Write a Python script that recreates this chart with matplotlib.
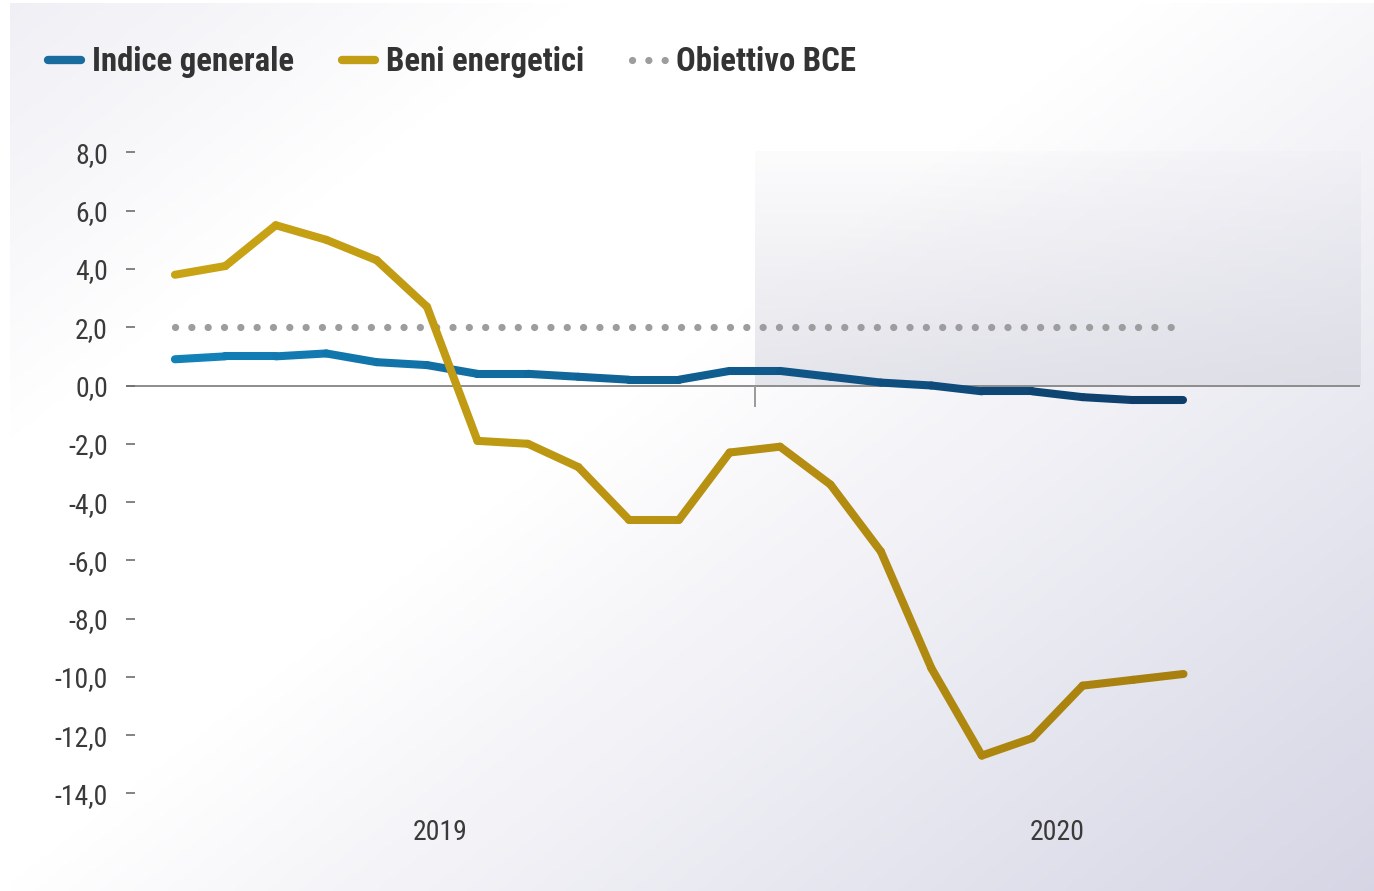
import numpy as np
import matplotlib
matplotlib.use("Agg")
import matplotlib.pyplot as plt
from matplotlib import font_manager
from matplotlib.collections import LineCollection
from matplotlib.colors import to_rgb
from matplotlib.lines import Line2D
from matplotlib.ticker import FuncFormatter

# dati: variazioni tendenziali mensili (%), gen 2019 - set 2020
mesi = ["gen-19", "feb-19", "mar-19", "apr-19", "mag-19", "giu-19", "lug-19",
        "ago-19", "set-19", "ott-19", "nov-19", "dic-19",
        "gen-20", "feb-20", "mar-20", "apr-20", "mag-20", "giu-20", "lug-20",
        "ago-20", "set-20"]
indice_generale = [0.9, 1.0, 1.0, 1.1, 0.8, 0.7, 0.4, 0.4, 0.3, 0.2, 0.2, 0.5,
                   0.5, 0.3, 0.1, 0.0, -0.2, -0.2, -0.4, -0.5, -0.5]
beni_energetici = [3.8, 4.1, 5.5, 5.0, 4.3, 2.7, -1.9, -2.0, -2.8, -4.6, -4.6, -2.3,
                   -2.1, -3.4, -5.7, -9.7, -12.7, -12.1, -10.3, -10.1, -9.9]
obiettivo_bce = [2.0] * len(mesi)
anni = ["2019", "2020"]
mesi_per_anno = 12
y_ticks = [8, 6, 4, 2, 0, -2, -4, -6, -8, -10, -12, -14]


def pick_font(names):
    for n in names:
        try:
            font_manager.findfont(font_manager.FontProperties(family=n),
                                  fallback_to_default=False)
            return n
        except ValueError:
            pass
    return "DejaVu Sans"


font_leg = pick_font(["Roboto Condensed", "Liberation Sans Narrow", "Roboto"])
condensed = font_leg in ("Roboto Condensed", "Liberation Sans Narrow")
leg_size = 23.6 if condensed else 21
tick_size = 20 if condensed else 18

W, H = 1374, 891
fig = plt.figure(figsize=(W / 100, H / 100), dpi=100)

# sfondo sfumato
bg = fig.add_axes([0, 0, 1, 1], zorder=-10)
xx, yy = np.meshgrid(np.linspace(0, 1, 400), np.linspace(0, 1, 260))
s = 0.6 * xx + 0.5 * yy - 0.5
dark = 0.27 * np.clip(s, 0, None) + 0.25 * np.clip(-s - 0.25, 0, None)
img = np.dstack([1 - dark, 1 - dark, 1 - dark * 0.62])
img[:, :int(400 * 12 / W)] = 1.0
img[:int(260 * 6 / H), :] = 1.0
bg.imshow(img, extent=[0, 1, 0, 1], aspect="auto", origin="upper")
bg.set_axis_off()

# area del grafico (pixel -> frazioni)
y_lo, y_hi = -14.6, 8.6
ppu = 29.14
zero_px = 385.5
top_px = zero_px - y_hi * ppu
bot_px = zero_px - y_lo * ppu
ax = fig.add_axes([126 / W, 1 - bot_px / H, (1360 - 126) / W, (bot_px - top_px) / H])
ax.patch.set_alpha(0)

x = np.arange(len(mesi))
x_lo, x_hi = -0.97, len(mesi) - 1 + 0.5 + (mesi_per_anno * 2 - len(mesi))
confine = mesi_per_anno - 0.5

# banda ombreggiata 2020 sopra lo zero
shade = np.zeros((100, 2, 4))
shade[..., 0] = 0.85
shade[..., 1] = 0.85
shade[..., 2] = 0.89
shade[..., 3] = np.linspace(0.08, 0.65, 100)[:, None]
ax.imshow(shade, extent=[confine, x_hi, 0, 8], aspect="auto", origin="upper",
          zorder=0.5)

ax.axhline(0, color="#8c8c8c", lw=1.4, zorder=1)
ax.vlines(confine, -0.75, 0, color="#9a9a9a", lw=1.4, zorder=1)

ax.plot(x, obiettivo_bce, ls=(0, (0.01, 2.25)), lw=5.2, color="#9d9d9f",
        dash_capstyle="round", zorder=2)


def gradient_line(xv, yv, c0, c1, lw):
    pts = np.column_stack([xv, yv])
    segs = np.stack([pts[:-1], pts[1:]], axis=1)
    t = np.linspace(0, 1, len(segs))[:, None]
    cols = (1 - t) * np.array(to_rgb(c0)) + t * np.array(to_rgb(c1))
    lc = LineCollection(segs, colors=cols, linewidths=lw, capstyle="round",
                        joinstyle="round", zorder=3)
    ax.add_collection(lc)


gradient_line(x, indice_generale, "#1281b8", "#0e3d6a", 5.8)
gradient_line(x, beni_energetici, "#c8a414", "#a8800f", 5.8)

ax.set_xlim(x_lo, x_hi)
ax.set_ylim(y_lo, y_hi)

for sp in ax.spines.values():
    sp.set_visible(False)

ax.set_yticks(y_ticks)
ax.yaxis.set_major_formatter(FuncFormatter(lambda v, p: f"{v:.1f}".replace(".", ",")))
ax.tick_params(axis="y", direction="in", length=6.5, width=1.2, color="#6e6e6e",
               pad=13, labelsize=tick_size, labelcolor="#3a3a3a")
for lab in ax.get_yticklabels():
    lab.set_fontfamily(font_leg)

centri = [(x_lo + confine) / 2, (confine + x_hi) / 2]
ax.set_xticks(centri)
ax.set_xticklabels(anni)
ax.tick_params(axis="x", length=0, pad=6, labelsize=tick_size, labelcolor="#3a3a3a")
for lab in ax.get_xticklabels():
    lab.set_fontfamily(font_leg)

handles = [
    Line2D([], [], color="#1a6c9e", lw=6, solid_capstyle="round"),
    Line2D([], [], color="#c29e15", lw=6, solid_capstyle="round"),
    Line2D([], [], color="#9d9d9f", lw=5.2, ls=(0, (0.01, 2.25)),
           dash_capstyle="round"),
]
labels = ["Indice generale", "Beni energetici", "Obiettivo BCE"]
leg = fig.legend(handles, labels, ncol=3, loc="center left",
                 bbox_to_anchor=(48 / W, 1 - 62 / H), frameon=False,
                 borderpad=0, borderaxespad=0, handlelength=1.0,
                 handletextpad=0.35, columnspacing=1.45,
                 prop=font_manager.FontProperties(family=font_leg, weight="bold",
                                                  size=leg_size))
for t in leg.get_texts():
    t.set_color("#333333")

fig.savefig("out.png", dpi=100)
